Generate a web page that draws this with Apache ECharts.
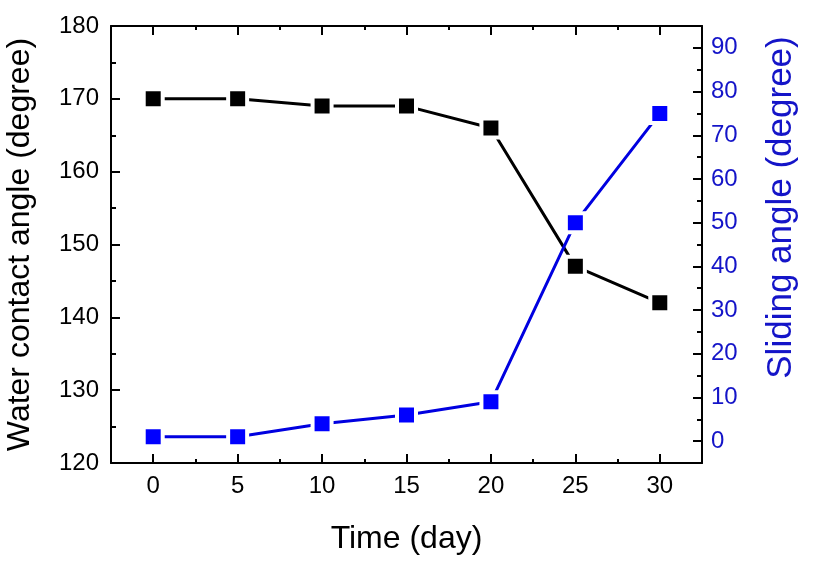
<!DOCTYPE html>
<html>
<head>
<meta charset="utf-8">
<script src="https://cdn.jsdelivr.net/npm/echarts@6/dist/echarts.min.js"></script>
<style>
html,body{margin:0;padding:0;background:#fff;}
#chart{width:820px;height:574px;}
</style>
</head>
<body>
<div id="chart"></div>
<script>
// Data
const days = [0, 5, 10, 15, 20, 25, 30];
const waterContactAngle = [170, 170, 169, 169, 166, 147, 142];
const slidingAngle = [1, 1, 4, 6, 9, 50, 75];

// Tick values
const xMajorTicks = [0, 5, 10, 15, 20, 25, 30];
const xMinorTicks = [2.5, 7.5, 12.5, 17.5, 22.5, 27.5];
const yRightMajorTicks = [0, 10, 20, 30, 40, 50, 60, 70, 80, 90];
const yRightMinorTicks = [5, 15, 25, 35, 45, 55, 65, 75, 85];

const FONT = 'Liberation Sans, Arial, sans-serif';
const BLUE = '#0000ff';
const BLUE_TEXT = '#1414c8';

function pairs(xs, ys) { return xs.map((x, i) => [x, ys[i]]); }

const chart = echarts.init(document.getElementById('chart'), null, {renderer: 'canvas'});

const axisLineStyle = {show: true, onZero: false, lineStyle: {color: '#000', width: 2}};
const noLine = {show: false, onZero: false};

function tickAxisX(position, values, len, showLine) {
  return {
    type: 'value', position: position, min: -2.5, max: 32.5,
    axisLine: showLine ? axisLineStyle : noLine,
    axisTick: {show: true, inside: true, length: len, customValues: values, lineStyle: {color: '#000', width: 2}},
    axisLabel: {show: false}, splitLine: {show: false}
  };
}

const option = {
  animation: false,
  backgroundColor: '#fff',
  grid: {left: 111, top: 26, width: 591, height: 437, containLabel: false, outerBoundsMode: 'none'},
  xAxis: [
    {
      type: 'value', position: 'bottom', min: -2.5, max: 32.5,
      name: 'Time (day)', nameLocation: 'middle', nameGap: 60,
      nameTextStyle: {fontFamily: FONT, fontSize: 32, color: '#000'},
      axisLine: axisLineStyle,
      axisTick: {show: true, inside: true, length: 9, customValues: xMajorTicks, lineStyle: {color: '#000', width: 2}},
      axisLabel: {show: true, customValues: xMajorTicks, fontFamily: FONT, fontSize: 24, color: '#000', margin: 11},
      splitLine: {show: false}
    },
    tickAxisX('bottom', xMinorTicks, 4, false),
    tickAxisX('top', xMajorTicks, 9, true),
    tickAxisX('top', xMinorTicks, 4, false)
  ],
  yAxis: [
    {
      type: 'value', position: 'left', min: 120, max: 180, interval: 10,
      name: 'Water contact angle (degree)', nameLocation: 'middle', nameGap: 75,
      nameTextStyle: {fontFamily: FONT, fontSize: 32, color: '#000'},
      axisLine: axisLineStyle,
      axisTick: {show: true, inside: true, length: 9, lineStyle: {color: '#000', width: 2}},
      minorTick: {show: true, splitNumber: 2, length: 5, lineStyle: {color: '#000', width: 2}},
      axisLabel: {show: true, fontFamily: FONT, fontSize: 24, color: '#000', margin: 12},
      splitLine: {show: false}
    },
    {
      type: 'value', position: 'right', min: -5, max: 95,
      name: 'Sliding angle (degree)', nameLocation: 'middle', nameGap: 62,
      nameTextStyle: {fontFamily: FONT, fontSize: 35, color: BLUE_TEXT, padding: [0, 0, 0, 74]},
      axisLine: axisLineStyle,
      axisTick: {show: true, inside: true, length: 9, customValues: yRightMajorTicks, lineStyle: {color: '#000', width: 2}},
      axisLabel: {show: true, customValues: yRightMajorTicks, fontFamily: FONT, fontSize: 24, color: BLUE_TEXT, margin: 9},
      splitLine: {show: false}
    },
    {
      type: 'value', position: 'right', min: -5, max: 95,
      axisLine: noLine,
      axisTick: {show: true, inside: true, length: 5, customValues: yRightMinorTicks, lineStyle: {color: '#000', width: 2}},
      axisLabel: {show: false}, splitLine: {show: false}
    }
  ],
  series: [
    {
      type: 'line', name: 'Water contact angle', xAxisIndex: 0, yAxisIndex: 0,
      data: pairs(days, waterContactAngle),
      symbol: 'rect', symbolSize: 19,
      lineStyle: {color: '#000', width: 3},
      itemStyle: {color: '#000', borderColor: '#fff', borderWidth: 4},
      z: 3
    },
    {
      type: 'line', name: 'Sliding angle', xAxisIndex: 0, yAxisIndex: 1,
      data: pairs(days, slidingAngle),
      symbol: 'rect', symbolSize: 19,
      lineStyle: {color: '#0000e0', width: 3},
      itemStyle: {color: BLUE, borderColor: '#fff', borderWidth: 4},
      z: 4
    }
  ]
};
chart.setOption(option);
</script>
</body>
</html>
